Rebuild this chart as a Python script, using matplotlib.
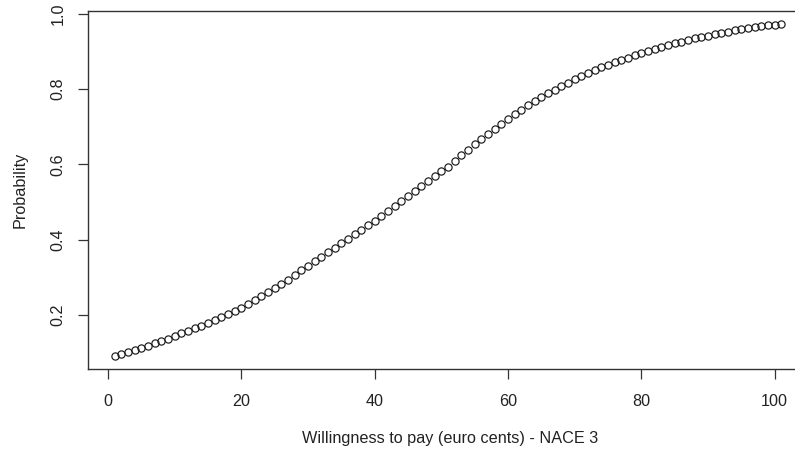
import matplotlib
matplotlib.use("Agg")
import matplotlib.pyplot as plt
import numpy as np

wtp = list(range(1, 102))
probability = [
    0.0911, 0.0960, 0.1010, 0.1063, 0.1119, 0.1176, 0.1237, 0.1300, 0.1366, 0.1435,
    0.1506, 0.1572, 0.1641, 0.1712, 0.1786, 0.1862, 0.1940, 0.2021, 0.2105, 0.2191,
    0.2279, 0.2381, 0.2487, 0.2594, 0.2705, 0.2819, 0.2936, 0.3055, 0.3178, 0.3303,
    0.3430, 0.3543, 0.3659, 0.3775, 0.3894, 0.4013, 0.4134, 0.4256, 0.4378, 0.4502,
    0.4626, 0.4758, 0.4890, 0.5022, 0.5155, 0.5287, 0.5419, 0.5550, 0.5681, 0.5810,
    0.5939, 0.6090, 0.6239, 0.6385, 0.6529, 0.6671, 0.6809, 0.6944, 0.7077, 0.7205,
    0.7330, 0.7448, 0.7562, 0.7673, 0.7780, 0.7883, 0.7983, 0.8080, 0.8173, 0.8262,
    0.8348, 0.8427, 0.8502, 0.8574, 0.8644, 0.8710, 0.8774, 0.8835, 0.8894, 0.8949,
    0.9002, 0.9060, 0.9113, 0.9164, 0.9213, 0.9258, 0.9302, 0.9343, 0.9382, 0.9419,
    0.9454, 0.9491, 0.9526, 0.9558, 0.9589, 0.9618, 0.9644, 0.9669, 0.9693, 0.9714,
    0.9734,
]
x_ticks = [0, 20, 40, 60, 80, 100]
y_ticks = [0.2, 0.4, 0.6, 0.8, 1.0]
x_label = "Willingness to pay (euro cents) - NACE 3"
y_label = "Probability"

plt.rcParams['font.family'] = ['Liberation Sans', 'DejaVu Sans']

W, H = 795, 450
fig = plt.figure(figsize=(W / 100, H / 100), dpi=100)
ax = fig.add_axes([88 / W, (H - 369) / H, 720 / W, (369 - 10.5) / H])

ax.plot(wtp, probability, linestyle='none', marker='o', markersize=5.2,
        markerfacecolor='none', markeredgecolor='#1a1a1a', markeredgewidth=0.85)

xr = max(wtp) - min(wtp)
yr = max(probability) - min(probability)
ax.set_xlim(min(wtp) - 0.04 * xr, max(wtp) + 0.04 * xr)
ax.set_ylim(min(probability) - 0.04 * yr, max(probability) + 0.04 * yr)

ax.set_xticks(x_ticks)
ax.set_xticklabels([str(t) for t in x_ticks])
ax.set_yticks(y_ticks)
ax.set_yticklabels([f"{t:.1f}" for t in y_ticks], rotation=90, va='center')

ax.tick_params(axis='both', direction='out', length=7, width=0.9, color='#333333',
               labelsize=11.6, labelcolor='#222222')
ax.tick_params(axis='x', pad=11)
ax.tick_params(axis='y', pad=9)

for s in ax.spines.values():
    s.set_color('#333333')
    s.set_linewidth(1.0)
ax.spines['right'].set_visible(False)

fig.text(450 / W, 1 - 438 / H, x_label, ha='center', va='center',
         fontsize=11.7, color='#222222')
fig.text(20.5 / W, 1 - 190 / H, y_label, ha='center', va='center', rotation=90,
         fontsize=11.7, color='#222222')

fig.savefig("out.png", dpi=100)
